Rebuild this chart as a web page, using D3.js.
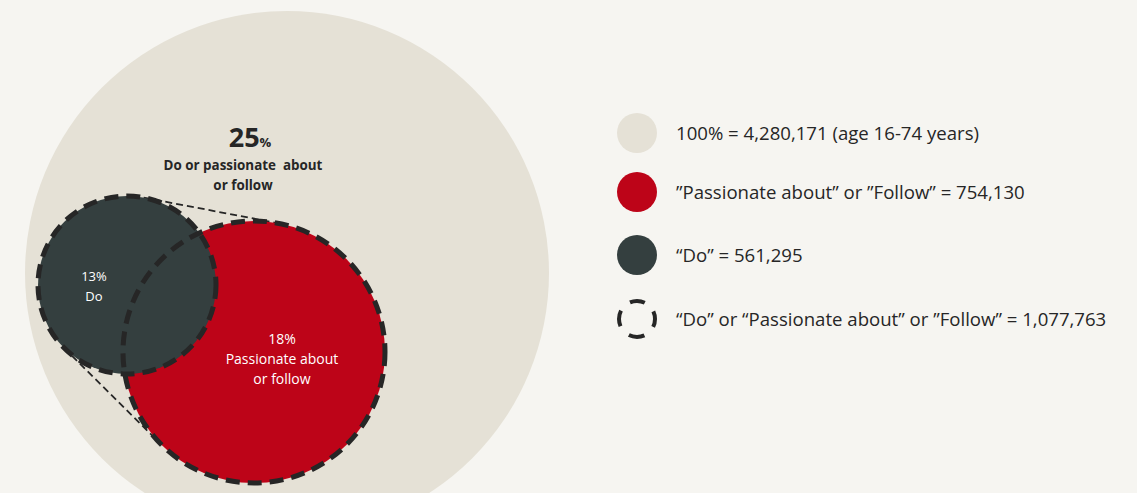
<!DOCTYPE html>
<html>
<head>
<meta charset="utf-8">
<script src="https://cdn.jsdelivr.net/npm/d3@7"></script>
<style>
  body { margin: 0; background: #f6f5f1; }
  svg { display: block; font-family: "Open Sans", Lato, sans-serif; }
</style>
</head>
<body>
<svg width="1137" height="493"></svg>
<script>
// data
var groups = ["total", "passionate", "do", "union"];
var values = [4280171, 754130, 561295, 1077763];
var shares = ["100%", "18%", "13%", "25%"];
var legendLabels = [
  "100% = 4,280,171 (age 16-74 years)",
  "\u201DPassionate about\u201D or \u201DFollow\u201D = 754,130",
  "\u201CDo\u201D = 561,295",
  "\u201CDo\u201D or \u201CPassionate about\u201D or \u201DFollow\u201D = 1,077,763"
];

var svg = d3.select("svg"),
    width = +svg.attr("width"),
    height = +svg.attr("height");

var color = d3.scaleOrdinal()
    .domain(groups)
    .range(["#e5e1d6", "#bd0418", "#343f3f", "none"]);

// diagram layout
var big = { x: 287, y: 273, r: 262 },
    red = { x: 254, y: 352, r: 131 },
    dark = { x: 127, y: 285, r: 89 };

var g = svg.append("g");

g.append("circle")
    .attr("cx", big.x).attr("cy", big.y).attr("r", big.r)
    .attr("fill", color("total"));

// outer tangents between the two circles
function tangents(a, b) {
  var dx = b.x - a.x, dy = b.y - a.y,
      d = Math.sqrt(dx * dx + dy * dy),
      th = Math.atan2(dy, dx),
      al = Math.acos((a.r - b.r) / d);
  return [th + al, th - al].map(function(t) {
    return [[a.x + a.r * Math.cos(t), a.y + a.r * Math.sin(t)],
            [b.x + b.r * Math.cos(t), b.y + b.r * Math.sin(t)]];
  });
}

g.selectAll(".tangent")
    .data(tangents(dark, red))
    .enter().append("path")
    .attr("class", "tangent")
    .attr("d", d3.line())
    .attr("stroke", "#262626")
    .attr("stroke-width", 1.8)
    .attr("stroke-dasharray", "7 4")
    .attr("fill", "none");

g.append("circle")
    .attr("cx", red.x).attr("cy", red.y).attr("r", red.r)
    .attr("fill", color("passionate"));
g.append("circle")
    .attr("cx", dark.x).attr("cy", dark.y).attr("r", dark.r)
    .attr("fill", color("do"));

[red, dark].forEach(function(c) {
  g.append("circle")
      .attr("cx", c.x).attr("cy", c.y).attr("r", c.r)
      .attr("fill", "none")
      .attr("stroke", "#262626")
      .attr("stroke-width", 5)
      .attr("stroke-dasharray", "14 8");
});

// labels in the diagram
var headline = g.append("text")
    .attr("x", 250).attr("y", 147)
    .attr("text-anchor", "middle")
    .attr("fill", "#262626")
    .attr("font-weight", "bold");
headline.append("tspan").attr("font-size", 27).text(shares[3].replace("%", ""));
headline.append("tspan").attr("font-size", 13).text("%");

g.append("text")
    .attr("text-anchor", "middle")
    .attr("fill", "#262626")
    .attr("font-weight", "bold")
    .attr("font-size", 13.4)
    .selectAll("tspan")
    .data(["Do or passionate  about", "or follow"])
    .enter().append("tspan")
    .attr("x", 243)
    .attr("y", function(d, i) { return 170 + i * 20; })
    .attr("xml:space", "preserve")
    .text(function(d) { return d; });

g.append("text")
    .attr("text-anchor", "middle")
    .attr("fill", "#ffffff")
    .attr("font-size", 13)
    .selectAll("tspan")
    .data([shares[2], "Do"])
    .enter().append("tspan")
    .attr("x", 94)
    .attr("y", function(d, i) { return 281 + i * 20; })
    .text(function(d) { return d; });

g.append("text")
    .attr("text-anchor", "middle")
    .attr("fill", "#ffffff")
    .attr("font-size", 14)
    .selectAll("tspan")
    .data([shares[1], "Passionate about", "or follow"])
    .enter().append("tspan")
    .attr("x", 282)
    .attr("y", function(d, i) { return 344 + i * 20; })
    .text(function(d) { return d; });

// legend
var y = d3.scaleOrdinal().domain(groups).range([133, 192, 255, 319]);

var leg = svg.append("g").attr("class", "legend");
var item = leg.selectAll(".item")
    .data(groups)
    .enter().append("g")
    .attr("class", "item")
    .attr("transform", function(d) { return "translate(637," + y(d) + ")"; });

item.append("circle")
    .attr("r", function(d) { return d === "union" ? 18 : 20; })
    .attr("fill", function(d) { return color(d); })
    .attr("stroke", function(d) { return d === "union" ? "#262626" : "none"; })
    .attr("stroke-width", 4)
    .attr("stroke-dasharray", function(d) { return d === "union" ? "16 12.3" : null; })
    .attr("stroke-dashoffset", 8)
    .attr("transform", "rotate(-90)");

item.append("text")
    .attr("x", 39)
    .attr("dy", "0.35em")
    .attr("font-size", 18.6)
    .attr("fill", "#262626")
    .text(function(d, i) { return legendLabels[i]; });
</script>
</body>
</html>
